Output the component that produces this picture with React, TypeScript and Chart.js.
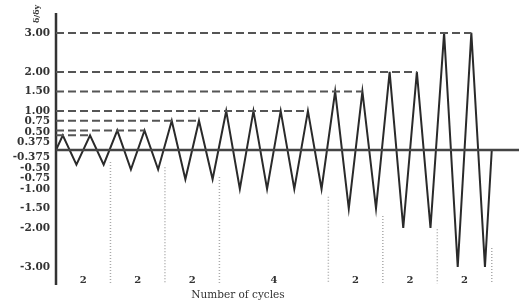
import React, { useEffect, useRef } from "react";
import { Chart, registerables } from "chart.js";

Chart.register(...registerables);

// amplitude levels (δ/δy) and number of cycles at each level
const amplitudes = [0.375, 0.5, 0.75, 1.0, 1.5, 2.0, 3.0];
const cyclesPerLevel = [2, 2, 2, 4, 2, 2, 2];
const cycleCountLabels = ["2", "2", "2", "4", "2", "2", "2"];
// y value where the dotted group separator starts (below each group)
const dividerTops = [-0.31, -0.44, -0.69, -1.2, -1.69, -2.03, -2.51];

const yTickValues = [3, 2, 1.5, 1, 0.75, 0.5, 0.375, -0.375, -0.5, -0.75, -1, -1.5, -2, -3];
const yTickLabels = ["3.00", "2.00", "1.50", "1.00", "0.75", "0.50", "0.375", "-0.375", "-0.50", "-0.75", "-1.00", "-1.50", "-2.00", "-3.00"];

const X_MAX = 17;
const Y_MIN = -3.46;
const Y_MAX = 3.51;
const Y_BOTTOM_DIV = -3.42;

export default function App() {
  const ref = useRef<HTMLCanvasElement | null>(null);

  useEffect(() => {
    if (!ref.current) return;

    const wave: { x: number; y: number }[] = [{ x: 0, y: 0 }];
    const dashed: any[] = [];
    const dividers: any[] = [];
    const groupMids: number[] = [];
    let c = 0;
    amplitudes.forEach((a, i) => {
      const n = cyclesPerLevel[i];
      const start = c;
      for (let k = 0; k < n; k++) {
        wave.push({ x: c + 0.25, y: a });
        wave.push({ x: c + 0.75, y: -a });
        c += 1;
      }
      dashed.push({
        data: [{ x: 0, y: a }, { x: c - 1 + 0.25, y: a }],
        borderColor: "#555",
        borderWidth: 2,
        borderDash: [8, 4],
        pointRadius: 0,
        clip: false,
      });
      dividers.push({
        data: [{ x: c, y: dividerTops[i] }, { x: c, y: Y_BOTTOM_DIV }],
        borderColor: "#aaa",
        borderWidth: 1.5,
        borderDash: [1, 2],
        pointRadius: 0,
        clip: false,
      });
      groupMids.push((start + c) / 2);
    });
    wave.push({ x: c, y: 0 });

    const labelPlugin = {
      id: "labels",
      afterDraw(chart: any) {
        const ctx = chart.ctx;
        const ys = chart.scales.y;
        const xs = chart.scales.x;
        ctx.save();
        ctx.fillStyle = "#333";
        ctx.font = "bold 10.5px 'DejaVu Serif'";
        ctx.textAlign = "right";
        ctx.textBaseline = "middle";
        const pos = yTickValues.map((v) => ys.getPixelForValue(v));
        const gap = 10.5;
        for (let i = 1; i < pos.length; i++) {
          if (yTickValues[i] > 0 && yTickValues[i - 1] > 0 && pos[i] - pos[i - 1] < gap) pos[i] = pos[i - 1] + gap;
        }
        for (let i = pos.length - 2; i >= 0; i--) {
          if (yTickValues[i] < 0 && yTickValues[i + 1] < 0 && pos[i + 1] - pos[i] < gap) pos[i] = pos[i + 1] - gap;
        }
        yTickLabels.forEach((t, i) => ctx.fillText(t, 50, pos[i]));

        ctx.textAlign = "center";
        ctx.font = "bold 10px 'DejaVu Serif'";
        groupMids.forEach((m, i) => ctx.fillText(cycleCountLabels[i], xs.getPixelForValue(m), 280));

        ctx.font = "10.5px 'DejaVu Serif'";
        ctx.fillText("Number of cycles", 238, 295);

        ctx.translate(37, 14);
        ctx.rotate(-Math.PI / 2);
        ctx.font = "bold 8px 'DejaVu Serif'";
        ctx.fillText("δ/δy", 0, 0);
        ctx.restore();
      },
    };

    const chart = new Chart(ref.current, {
      type: "line",
      data: {
        datasets: [
          ...dashed,
          ...dividers,
          {
            data: [{ x: 0, y: 0 }, { x: X_MAX, y: 0 }],
            borderColor: "#444",
            borderWidth: 2.5,
            pointRadius: 0,
            clip: false,
          },
          {
            data: [{ x: 0, y: Y_MIN }, { x: 0, y: Y_MAX }],
            borderColor: "#333",
            borderWidth: 2.5,
            pointRadius: 0,
            clip: false,
          },
          {
            data: wave,
            borderColor: "#2a2a2a",
            borderWidth: 2,
            pointRadius: 0,
            tension: 0,
            clip: false,
          },
        ],
      },
      options: {
        animation: false,
        responsive: false,
        maintainAspectRatio: false,
        layout: { padding: { left: 56, top: 13, right: 0, bottom: 17 } },
        plugins: { legend: { display: false }, tooltip: { enabled: false } },
        scales: {
          x: { type: "linear", min: 0, max: X_MAX, display: false },
          y: { type: "linear", min: Y_MIN, max: Y_MAX, display: false },
        },
      },
      plugins: [labelPlugin],
    });
    return () => chart.destroy();
  }, []);

  return (
    <div style={{ position: "fixed", left: 0, top: 0, width: 519, height: 302, background: "#fff" }}>
      <canvas ref={ref} width={519} height={302} style={{ width: 519, height: 302 }} />
    </div>
  );
}
